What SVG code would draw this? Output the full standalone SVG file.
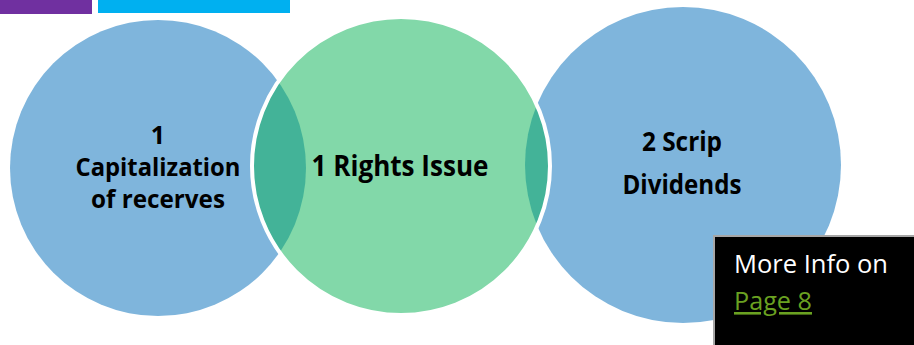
<svg xmlns="http://www.w3.org/2000/svg" width="914" height="345" viewBox="0 0 914 345">
<defs>
<style>
.lbl{font-family:"Open Sans","Liberation Sans",sans-serif;font-weight:bold;fill:#000;text-anchor:middle}
.info{font-family:"Open Sans","Liberation Sans",sans-serif;font-size:26px}
</style>
<clipPath id="cg"><circle cx="401" cy="166" r="148"/></clipPath>
</defs>
<g id="bars">
<rect x="0" y="0" width="92" height="14" fill="#7030A0"/>
<rect x="98" y="0" width="192" height="13" fill="#00B0F0"/>
</g>
<g id="node-left">
<circle cx="158" cy="168" r="148" fill="#7FB5DC"/>
<text class="lbl" font-size="25"><tspan x="158" y="144">1</tspan><tspan x="158" y="176" textLength="165" lengthAdjust="spacingAndGlyphs">Capitalization</tspan><tspan x="158" y="208" textLength="134" lengthAdjust="spacingAndGlyphs">of recerves</tspan></text>
</g>
<g id="node-right">
<circle cx="683" cy="165" r="158" fill="#7FB5DC"/>
<text class="lbl" font-size="26"><tspan x="682" y="151" textLength="80" lengthAdjust="spacingAndGlyphs">2 Scrip</tspan><tspan x="682" y="194" textLength="119" lengthAdjust="spacingAndGlyphs">Dividends</tspan></text>
</g>
<g id="node-middle">
<circle cx="401" cy="166" r="148" fill="#82D8A9"/>
<g clip-path="url(#cg)">
<circle cx="158" cy="168" r="148" fill="#43B398"/>
<circle cx="683" cy="165" r="158" fill="#43B398"/>
</g>
<circle cx="401" cy="166" r="149" fill="none" stroke="#FFFFFF" stroke-width="4"/>
<text class="lbl" font-size="28" x="400" y="176" textLength="177" lengthAdjust="spacingAndGlyphs">1 Rights Issue</text>
</g>
<g id="info-box">
<rect x="714" y="236" width="202" height="112" fill="#000" stroke="#A6A6A6" stroke-width="2"/>
<text class="info" x="734" y="273" fill="#FFFFFF" textLength="154" lengthAdjust="spacingAndGlyphs">More Info on</text>
<text class="info" x="734" y="310" fill="#6AA121" text-decoration="underline" textLength="78" lengthAdjust="spacingAndGlyphs">Page 8</text>
</g>
<g id="connectors"/>
</svg>
